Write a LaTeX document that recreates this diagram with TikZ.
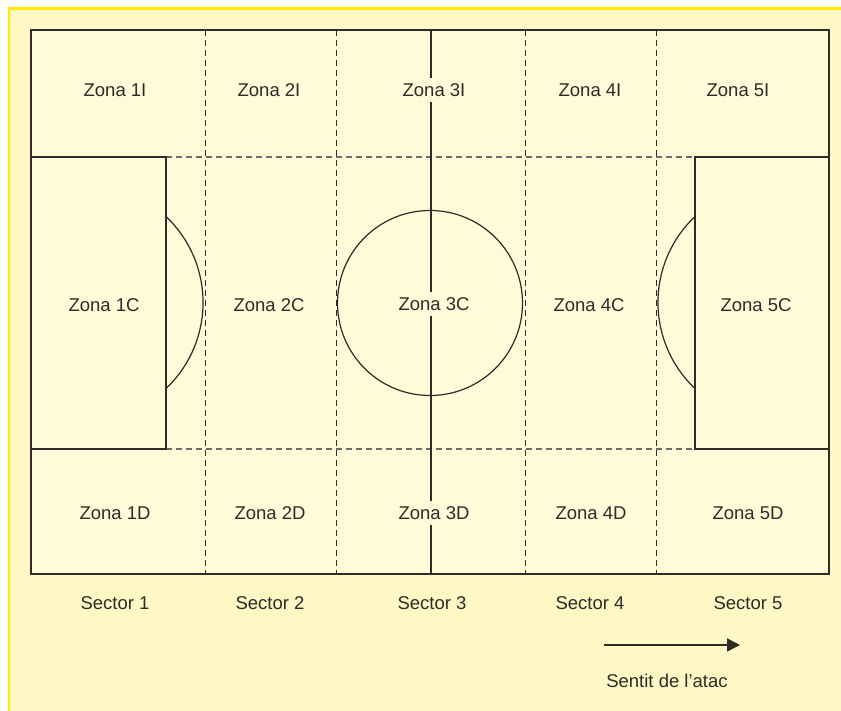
\documentclass[tikz,border=0pt]{standalone}
\usepackage{fontspec}
\setmainfont{Liberation Sans}
\usetikzlibrary{arrows.meta}
\definecolor{fonsext}{HTML}{FFF8C4}
\definecolor{fonscamp}{HTML}{FFFAD8}
\definecolor{vora}{HTML}{FFEA00}
\definecolor{linia}{HTML}{2E2B28}

\begin{document}
\begin{tikzpicture}[
    x=1pt, y=-1pt,
    zona/.style={
        font=\fontsize{18.5}{22}\selectfont, text=linia, inner sep=1pt
    },
    zonamig/.style={
        zona, fill=fonscamp, inner xsep=3pt, inner ysep=5pt
    },
    limit/.style={draw=linia, line width=1.5pt},
    corba/.style={draw=linia, line width=1.2pt},
    divisio/.style={draw=linia, line width=1pt, dash pattern=on 6pt off 4pt},
    divisioh/.style={divisio, draw=gray!85!black, line width=1.3pt},
    seta/.style={-{Triangle[length=13pt, width=13pt]}, line width=1.5pt, draw=linia}
]

% Fons
\useasboundingbox (0,0) rectangle (841,711);
\fill[fonsext] (8,8) rectangle (841,711);
\draw[vora, line width=2.5pt] (9,711) -- (9,8.5) -- (841,8.5);
\fill[fonscamp] (31,30) rectangle (829,574);

% Divisions
\draw[divisioh] (166,157) -- (695,157);
\draw[divisioh] (166,449) -- (695,449);
\draw[divisio] (205,30) -- (205,574);
\draw[divisio] (336,30) -- (336,574);
\draw[divisio] (525,30) -- (525,574);
\draw[divisio] (656,30) -- (656,574);

% Camp
\draw[limit] (431,30) -- (431,574);
\draw[corba] (430,303) circle (92.5);
\draw[limit] (31,157) rectangle (166,449);
\draw[limit] (695,157) rectangle (829,449);
\draw[corba] (166,216.5) arc[start angle=-46.6, end angle=46.6, radius=118.4];
\draw[corba] (695,216.5) arc[start angle=226.6, end angle=133.4, radius=118.4];
\draw[limit] (31,30) rectangle (829,574);

% Zones
\node[zona] (z1i) at (115,90) {Zona 1I};
\node[zona] (z2i) at (269,90) {Zona 2I};
\node[zonamig] (z3i) at (434,90) {Zona 3I};
\node[zona] (z4i) at (590,90) {Zona 4I};
\node[zona] (z5i) at (738,90) {Zona 5I};

\node[zona] (z1c) at (104,305) {Zona 1C};
\node[zona] (z2c) at (269,305) {Zona 2C};
\node[zonamig] (z3c) at (434,304) {Zona 3C};
\node[zona] (z4c) at (589,305) {Zona 4C};
\node[zona] (z5c) at (756,305) {Zona 5C};

\node[zona] (z1d) at (115,513) {Zona 1D};
\node[zona] (z2d) at (270,513) {Zona 2D};
\node[zonamig] (z3d) at (434,513) {Zona 3D};
\node[zona] (z4d) at (591,513) {Zona 4D};
\node[zona] (z5d) at (748,513) {Zona 5D};

% Sectors
\node[zona] (s1) at (115,603) {Sector 1};
\node[zona] (s2) at (270,603) {Sector 2};
\node[zona] (s3) at (432,603) {Sector 3};
\node[zona] (s4) at (590,603) {Sector 4};
\node[zona] (s5) at (748,603) {Sector 5};

% Sentit
\coordinate (atac0) at (604,645);
\coordinate (atac1) at (740,645);
\draw[seta] (atac0) -- (atac1);
\node[zona] (sentit) at (667,681) {Sentit de l’atac};

\end{tikzpicture}
\end{document}
